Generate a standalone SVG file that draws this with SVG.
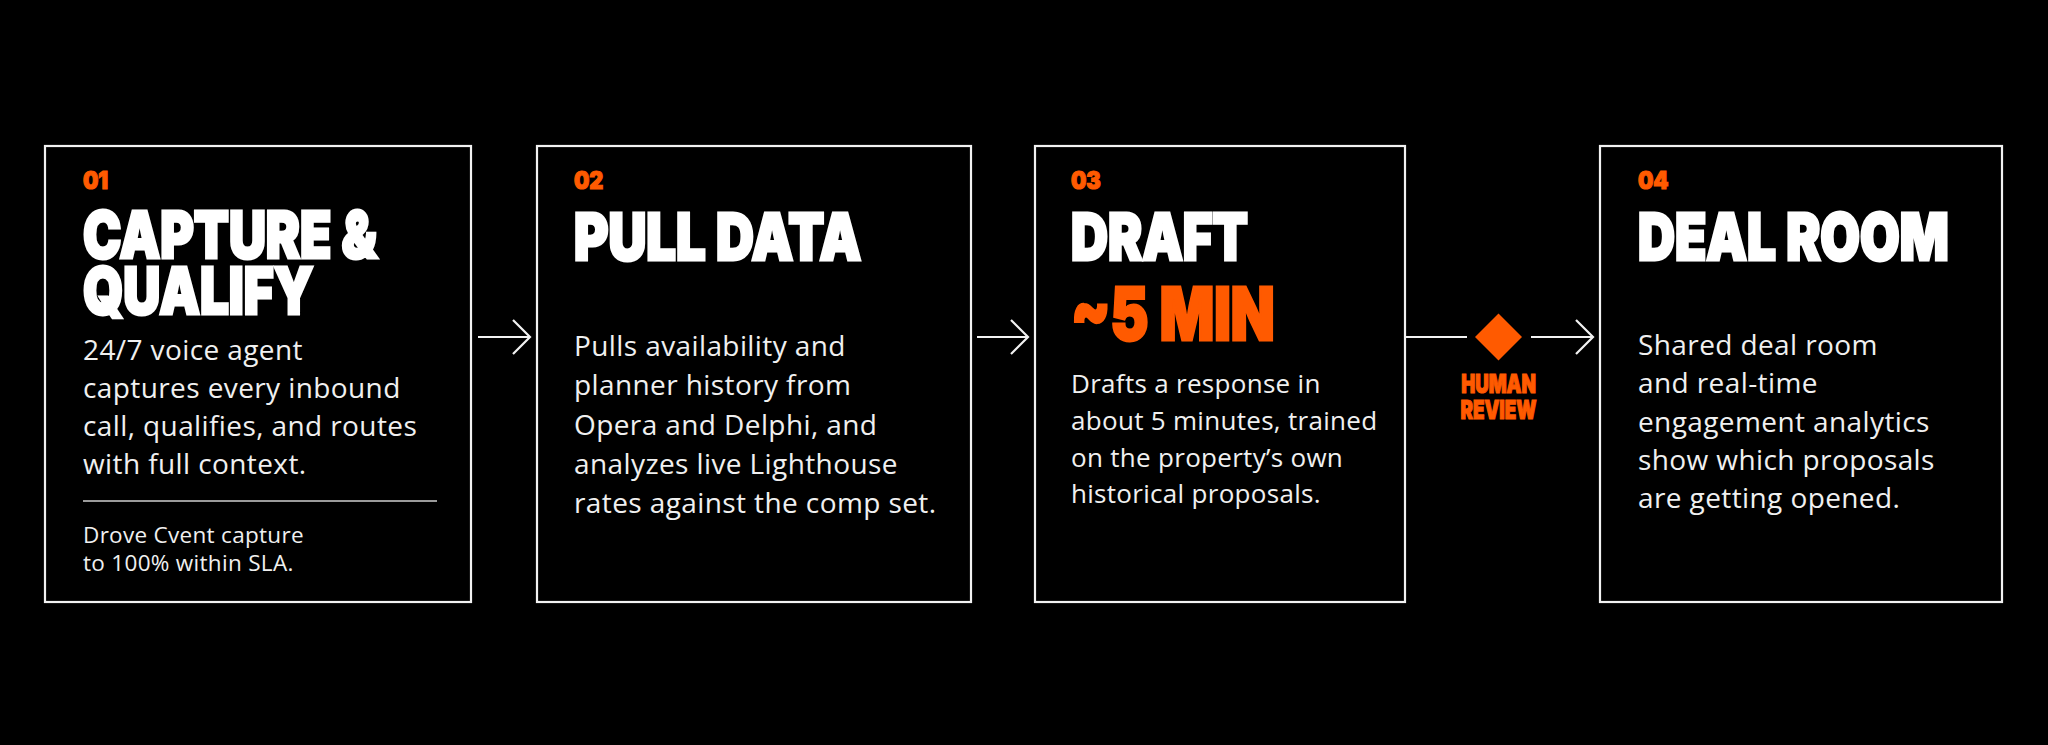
<svg xmlns="http://www.w3.org/2000/svg" width="2048" height="745" viewBox="0 0 2048 745">
<defs>
<style>
.box{fill:#000;stroke:#f2f2f2;stroke-width:2.2}
.num{font-family:Inter,"Liberation Sans",sans-serif;font-weight:900;font-size:24px;fill:#ff5a00;stroke:#ff5a00;stroke-width:1.2}
.head{font-family:Inter,"Liberation Sans",sans-serif;font-weight:900;font-size:64px;fill:#fff;stroke:#fff;stroke-width:3}
.big{font-family:Inter,"Liberation Sans",sans-serif;font-weight:900;font-size:73px;fill:#ff5a00;stroke:#ff5a00;stroke-width:3}
.body{font-family:"Open Sans","Noto Sans",sans-serif;font-size:28px;fill:#f0f0f0;letter-spacing:0.4px}
.body3{font-family:"Open Sans","Noto Sans",sans-serif;font-size:26px;fill:#f0f0f0;letter-spacing:0.3px}
.small{font-family:"Open Sans","Noto Sans",sans-serif;font-size:22.5px;fill:#f0f0f0;letter-spacing:0.3px}
.lab{font-family:Inter,"Liberation Sans",sans-serif;font-weight:900;font-size:26px;fill:#ff5a00;stroke:#ff5a00;stroke-width:1.2}
.conn{stroke:#f2f2f2;stroke-width:2.2;fill:none}
</style>
<marker id="chev" viewBox="0 0 20 36" refX="18" refY="18" markerWidth="20" markerHeight="36" markerUnits="userSpaceOnUse" orient="auto">
<path d="M1,1 L18,18 L1,35" fill="none" stroke="#f2f2f2" stroke-width="2.2"/>
</marker>
</defs>
<rect width="2048" height="745" fill="#000"/>
<g id="connectors">
<line class="conn" x1="478" y1="337" x2="530" y2="337" marker-end="url(#chev)"/>
<line class="conn" x1="977" y1="337" x2="1028" y2="337" marker-end="url(#chev)"/>
<line class="conn" x1="1405" y1="337" x2="1467" y2="337"/>
<line class="conn" x1="1531" y1="337" x2="1593" y2="337" marker-end="url(#chev)"/>
</g>
<g id="step1">
<rect class="box" x="45" y="146" width="426" height="456"/>
<text class="num" transform="translate(83,189) scale(0.9,1)">01</text>
<text class="head" transform="translate(83,258) scale(0.8,1)">CAPTURE &amp;</text>
<text class="head" transform="translate(83,314) scale(0.8,1)">QUALIFY</text>
<text class="body" x="83" y="360">24/7 voice agent</text>
<text class="body" x="83" y="398">captures every inbound</text>
<text class="body" x="83" y="436">call, qualifies, and routes</text>
<text class="body" x="83" y="474">with full context.</text>
<line x1="83" y1="501" x2="437" y2="501" stroke="#cfcfcf" stroke-width="1.6"/>
<text class="small" x="83" y="543">Drove Cvent capture</text>
<text class="small" x="83" y="571">to 100% within SLA.</text>
</g>
<g id="step2">
<rect class="box" x="537" y="146" width="434" height="456"/>
<text class="num" transform="translate(574,189) scale(0.9,1)">02</text>
<text class="head" transform="translate(574,260) scale(0.82,1)">PULL DATA</text>
<text class="body" x="574" y="356">Pulls availability and</text>
<text class="body" x="574" y="395">planner history from</text>
<text class="body" x="574" y="435">Opera and Delphi, and</text>
<text class="body" x="574" y="474">analyzes live Lighthouse</text>
<text class="body" x="574" y="513">rates against the comp set.</text>
</g>
<g id="step3">
<rect class="box" x="1035" y="146" width="370" height="456"/>
<text class="num" transform="translate(1071,189) scale(0.9,1)">03</text>
<text class="head" transform="translate(1071,260) scale(0.8,1)">DRAFT</text>
<text class="big" transform="translate(1071,340) scale(0.78,1)">~5 MIN</text>
<text class="body3" x="1071" y="393">Drafts a response in</text>
<text class="body3" x="1071" y="430">about 5 minutes, trained</text>
<text class="body3" x="1071" y="467">on the property’s own</text>
<text class="body3" x="1071" y="503">historical proposals.</text>
</g>
<g id="review">
<polygon points="1498.5,313.5 1522,337 1498.5,360.5 1475,337" fill="#ff5a00"/>
<text class="lab" text-anchor="middle" transform="translate(1498.5,393) scale(0.72,1)">HUMAN</text>
<text class="lab" text-anchor="middle" transform="translate(1498.5,419) scale(0.72,1)">REVIEW</text>
</g>
<g id="step4">
<rect class="box" x="1600" y="146" width="402" height="456"/>
<text class="num" transform="translate(1638,189) scale(0.9,1)">04</text>
<text class="head" transform="translate(1638,260) scale(0.8,1)">DEAL ROOM</text>
<text class="body" x="1638" y="355">Shared deal room</text>
<text class="body" x="1638" y="393">and real-time</text>
<text class="body" x="1638" y="432">engagement analytics</text>
<text class="body" x="1638" y="470">show which proposals</text>
<text class="body" x="1638" y="508">are getting opened.</text>
</g>
</svg>
